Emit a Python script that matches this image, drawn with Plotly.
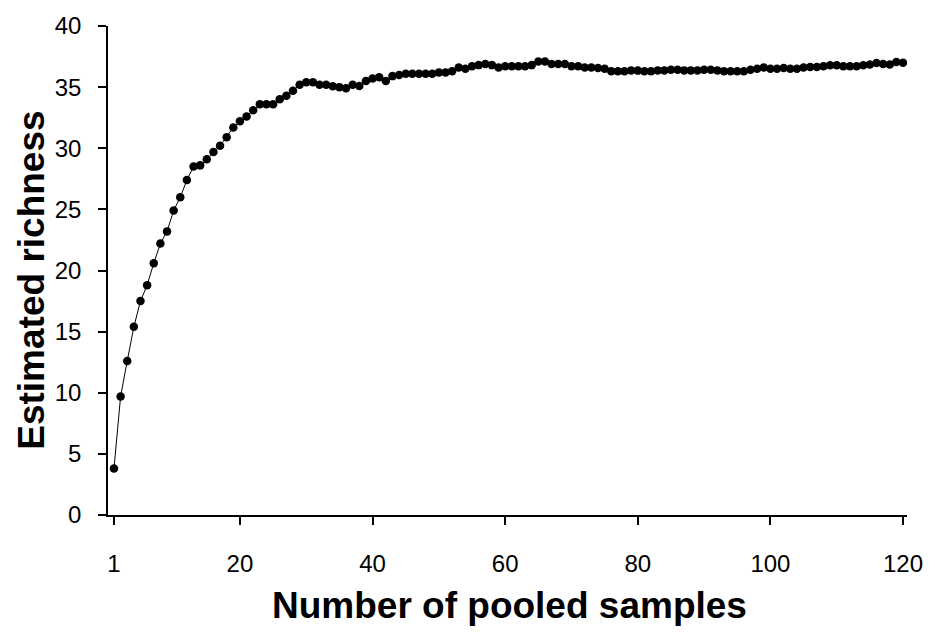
import plotly.graph_objects as go

samples = list(range(1, 121))
richness = [
    3.8, 9.7, 12.6, 15.4, 17.5, 18.8, 20.6, 22.2, 23.2, 24.9,
    26.0, 27.4, 28.5, 28.6, 29.1, 29.7, 30.2, 30.9, 31.7, 32.2,
    32.6, 33.1, 33.6, 33.6, 33.6, 34.0, 34.3, 34.7, 35.2, 35.4,
    35.4, 35.2, 35.2,
    35.07, 35.0, 34.9, 35.2, 35.1, 35.5, 35.7, 35.8, 35.5, 35.9,
    36.0, 36.1, 36.1, 36.1, 36.1, 36.1, 36.2, 36.2, 36.3, 36.6,
    36.5, 36.7, 36.8, 36.9, 36.8, 36.6, 36.7, 36.7, 36.7, 36.7,
    36.8, 37.1, 37.1, 36.9, 36.9, 36.9, 36.7, 36.7, 36.6, 36.6,
    36.56, 36.5, 36.3, 36.3, 36.3, 36.37, 36.35, 36.3, 36.3, 36.37,
    36.37, 36.43, 36.43, 36.37, 36.37, 36.37, 36.43, 36.43, 36.37, 36.3,
    36.3, 36.3, 36.3, 36.43, 36.5, 36.6, 36.5, 36.5, 36.56, 36.5,
    36.5, 36.6, 36.64, 36.64, 36.7, 36.78, 36.78, 36.7, 36.7, 36.7,
    36.78, 36.86, 36.97, 36.9, 36.85, 37.05, 37.0,
]
x_ticks = [1, 20, 40, 60, 80, 100, 120]
y_ticks = [0, 5, 10, 15, 20, 25, 30, 35, 40]
x_title = "Number of pooled samples"
y_title = "Estimated richness"

FONT = "Liberation Sans, Arial, sans-serif"

fig = go.Figure()
fig.add_trace(go.Scatter(
    x=samples, y=richness, mode="lines+markers",
    line=dict(color="black", width=1),
    marker=dict(color="black", size=8.5, symbol="circle"),
    showlegend=False,
))

fig.update_layout(
    width=935, height=632,
    margin=dict(l=108, r=23, t=24, b=117),
    paper_bgcolor="white", plot_bgcolor="white",
    font=dict(family=FONT, color="black"),
    xaxis=dict(
        range=[0.1, 120.6], tickmode="array", tickvals=x_ticks,
        ticktext=[str(v) for v in x_ticks],
        showgrid=False, zeroline=False, showline=True, linecolor="black",
        linewidth=2, ticks="outside", ticklen=8, tickwidth=2, tickcolor="black",
        tickfont=dict(size=24, family=FONT, color="black"),
        ticklabelstandoff=18,
    ),
    yaxis=dict(
        range=[0, 40], tickmode="array", tickvals=y_ticks,
        showgrid=False, zeroline=False, showline=True, linecolor="black",
        linewidth=1.5, ticks="outside", ticklen=8, tickwidth=1.5, tickcolor="black",
        tickfont=dict(size=24, family=FONT, color="black"),
        ticklabelstandoff=12,
    ),
    annotations=[
        dict(text=x_title, xref="paper", yref="paper", x=0.5025, y=-0.185,
             xanchor="center", yanchor="middle", showarrow=False,
             font=dict(size=37, family=FONT, color="black", weight="bold")),
        dict(text=y_title, xref="paper", yref="paper", x=-0.0958, y=0.48,
             xanchor="center", yanchor="middle", showarrow=False, textangle=-90,
             font=dict(size=37, family=FONT, color="black", weight="bold")),
    ],
)

fig.write_html(
    "out.html",
    config={"displayModeBar": False},
    post_script="document.body.style.margin='0';document.body.style.overflow='hidden';",
)
